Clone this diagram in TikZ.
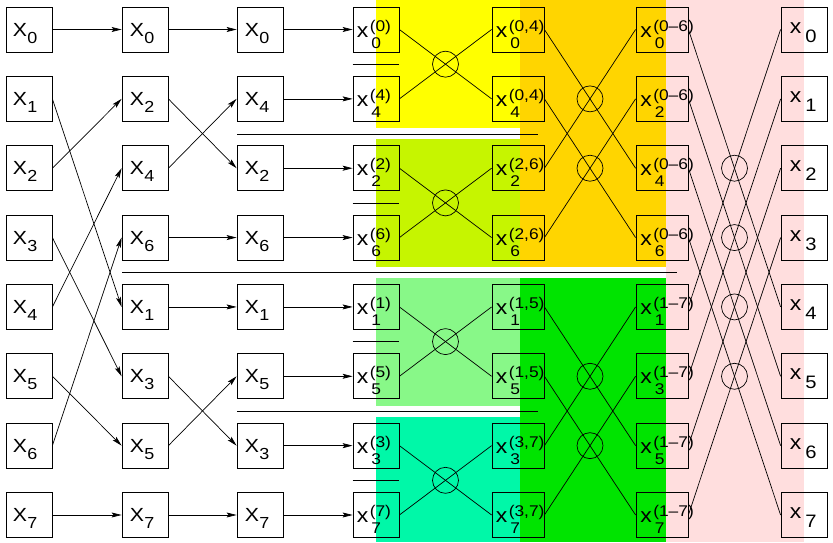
\documentclass[tikz,border=0pt]{standalone}
\usepackage{fontspec}
\setmainfont[FakeStretch=1.12]{Liberation Sans}
\usetikzlibrary{arrows.meta,calc}
\definecolor{cYel}{RGB}{255,255,0}
\definecolor{cYG}{RGB}{198,245,0}
\definecolor{cGold}{RGB}{255,213,0}
\definecolor{cLG}{RGB}{136,248,136}
\definecolor{cAq}{RGB}{0,248,168}
\definecolor{cGr}{RGB}{0,228,0}
\definecolor{cPink}{RGB}{255,222,222}
\newcommand\Xl[1]{\fontsize{19}{20}\selectfont X\kern0.5pt\raisebox{-7pt}{\fontsize{16}{17}\selectfont #1}}
\newcommand\xl[2]{\fontsize{20.5}{22}\selectfont x\kern1.5pt\rlap{\kern1.5pt\raisebox{-11pt}{\fontsize{15.5}{17}\selectfont #2}}\raisebox{6pt}{\fontsize{15.5}{17}\selectfont #1}}
\newcommand\xo[1]{\fontsize{20.5}{22}\selectfont x\kern4pt\raisebox{-9pt}{\fontsize{18}{19}\selectfont #1}}
\begin{document}
\begin{tikzpicture}[x=1pt,y=-1pt,
  box/.style={draw, line width=0.8pt, minimum width=46pt, minimum height=45pt, inner sep=0pt},
  wbox/.style={box, minimum width=52pt},
  lab/.style={inner sep=0pt, anchor=base west},
  conn/.style={line width=0.7pt},
  arr/.style={conn, -{Stealth[length=10pt,width=5pt,inset=2pt]}},
  xing/.style={draw, circle, minimum size=26pt, inner sep=0pt, line width=0.7pt},
  sep/.style={line width=0.7pt}]
\useasboundingbox (0,0) rectangle (833,542);
% backgrounds
\fill[cPink] (666,0) rectangle (804,542);
\fill[cGold] (520,0) rectangle (666,267);
\fill[cGr] (520,278) rectangle (666,542);
\fill[cYel] (376,0) rectangle (520,128);
\fill[cYG] (376,139) rectangle (520,267);
\fill[cLG] (376,278) rectangle (520,406);
\fill[cAq] (376,417) rectangle (520,542);
% boxes
\foreach \r/\v in {1/0,2/1,3/2,4/3,5/4,6/5,7/6,8/7}{
  \node[box] (a\r) at (29,{29.5+69.357*(\r-1)}) {};
  \node[lab] (ta\r) at ([xshift=7pt,yshift=-6.5pt]a\r.west) {\Xl{\v}};
  \node[box] (g\r) at (804,{29.5+69.357*(\r-1)}) {};
  \node[lab] (tg\r) at ([xshift=9pt,yshift=-3.5pt]g\r.west) {\xo{\v}};
}
\foreach \r/\v in {1/0,2/2,3/4,4/6,5/1,6/3,7/5,8/7}{
  \node[box] (b\r) at (145,{29.5+69.357*(\r-1)}) {};
  \node[lab] (tb\r) at ([xshift=8pt,yshift=-6.5pt]b\r.west) {\Xl{\v}};
}
\foreach \r/\v in {1/0,2/4,3/2,4/6,5/1,6/5,7/3,8/7}{
  \node[box] (c\r) at (260,{29.5+69.357*(\r-1)}) {};
  \node[lab] (tc\r) at ([xshift=8pt,yshift=-6.5pt]c\r.west) {\Xl{\v}};
  \node[box] (d\r) at (376,{29.5+69.357*(\r-1)}) {};
  \node[lab] (td\r) at ([xshift=4pt,yshift=-7.5pt]d\r.west) {\xl{(\v)}{\v}};
}
\foreach \r/\v/\s in {1/0/{0,4},2/4/{0,4},3/2/{2,6},4/6/{2,6},5/1/{1,5},6/5/{1,5},7/3/{3,7},8/7/{3,7}}{
  \node[wbox] (e\r) at (518,{29.5+69.357*(\r-1)}) {};
  \node[lab] (te\r) at ([xshift=4pt,yshift=-7.5pt]e\r.west) {\xl{(\s)}{\v}};
}
\foreach \r/\v/\s in {1/0/{0–6},2/2/{0–6},3/4/{0–6},4/6/{0–6},5/1/{1–7},6/3/{1–7},7/5/{1–7},8/7/{1–7}}{
  \node[wbox] (f\r) at (662,{29.5+69.357*(\r-1)}) {};
  \node[lab] (tf\r) at ([xshift=4.5pt,yshift=-7.5pt]f\r.west) {\xl{(\s)}{\v}};
}
% separators
\foreach \i/\j in {1/2,3/4,5/6,7/8}
  \draw[sep] ($(d\i.south west)!0.5!(d\j.north west)$) -- ($(d\i.south east)!0.5!(d\j.north east)$);
\coordinate (s1a) at (237,134); \coordinate (s1b) at (538,134);
\coordinate (s2a) at (237,411); \coordinate (s2b) at (538,411);
\coordinate (s3a) at (122,272.5); \coordinate (s3b) at (677,272.5);
\draw[sep] (s1a) -- (s1b);
\draw[sep] (s2a) -- (s2b);
\draw[sep] (s3a) -- (s3b);
% stage 1-3 arrows
\foreach \i/\j in {1/1,2/5,3/2,4/6,5/3,6/7,7/4,8/8}
  \draw[arr] (a\i.east) -- (b\j.west);
\foreach \i/\j in {1/1,2/3,3/2,4/4,5/5,6/7,7/6,8/8}
  \draw[arr] (b\i.east) -- (c\j.west);
\foreach \i in {1,...,8}
  \draw[arr] (c\i.east) -- (d\i.west);
% butterflies
\foreach \i/\j in {1/2,2/1,3/4,4/3,5/6,6/5,7/8,8/7}
  \draw[conn] (d\i.east) -- (e\j.west);
\foreach \i/\j in {1/3,3/1,2/4,4/2,5/7,7/5,6/8,8/6}
  \draw[conn] (e\i.east) -- (f\j.west);
\foreach \i/\j in {1/5,5/1,2/6,6/2,3/7,7/3,4/8,8/4}
  \draw[conn] (f\i.east) -- (g\j.west);
% crossing circles
\foreach \i/\j [count=\k] in {1/2,3/4,5/6,7/8}
  \node[xing] (p\k) at ($(d\i.east)!0.5!(e\j.west)$) {};
\foreach \i/\j [count=\k] in {1/3,2/4,5/7,6/8}
  \node[xing] (q\k) at ($(e\i.east)!0.5!(f\j.west)$) {};
\foreach \i/\j [count=\k] in {1/5,2/6,3/7,4/8}
  \node[xing] (u\k) at ($(f\i.east)!0.5!(g\j.west)$) {};
\end{tikzpicture}
\end{document}
